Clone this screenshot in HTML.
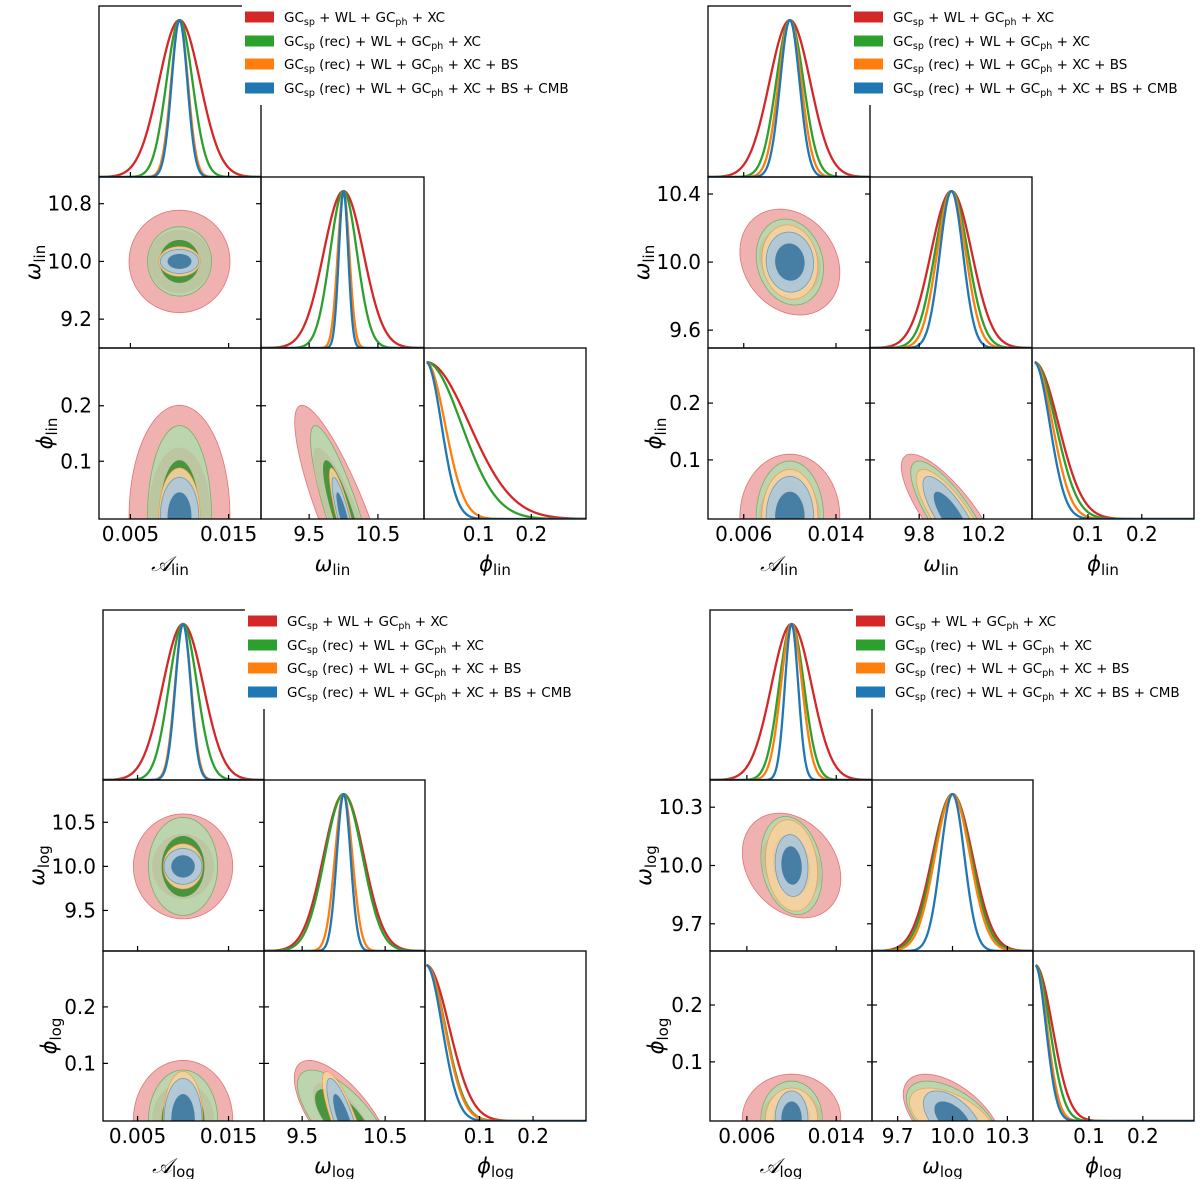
<!DOCTYPE html>
<html><head><meta charset="utf-8">
<style>
html,body{margin:0;padding:0;background:#fff;}
svg{display:block;}
text{font-family:"DejaVu Sans","Liberation Sans",sans-serif;fill:#000;}
</style></head>
<body>
<svg id="chart" width="1200" height="1179" viewBox="0 0 1200 1179" xmlns="http://www.w3.org/2000/svg"></svg>
<script>
// ---------- data ----------
const seriesLabels = [
  ["GC","sp"," + WL + GC","ph"," + XC"],
  ["GC","sp"," (rec) + WL + GC","ph"," + XC"],
  ["GC","sp"," (rec) + WL + GC","ph"," + XC + BS"],
  ["GC","sp"," (rec) + WL + GC","ph"," + XC + BS + CMB"]
];
const meanA = [0.01, 0.01, 0.01, 0.01];
const meanW = [10.0, 10.0, 10.0, 10.0];
const meanP = [0, 0, 0, 0];

// top-left (lin)
const tlSigA = [0.0021, 0.00133, 0.00086, 0.0008];
const tlSigW = [0.29, 0.196, 0.085, 0.068];
const tlSigP = [0.082, 0.067, 0.036, 0.029];
const tlRhoAW = [0, 0, 0, 0];
const tlRhoWP = [-0.85, -0.85, -0.85, -0.85];
const tlTicksA = [0.005, 0.015], tlTickLabA = ["0.005", "0.015"];
const tlTicksWx = [9.5, 10.5], tlTickLabWx = ["9.5", "10.5"];
const tlTicksWy = [9.2, 10.0, 10.8], tlTickLabWy = ["9.2", "10.0", "10.8"];
const tlTicksP = [0.1, 0.2], tlTickLabP = ["0.1", "0.2"];

// top-right (lin + CMB)
const trSigA = [0.00177, 0.00119, 0.00099, 0.00084];
const trSigW = [0.127, 0.103, 0.089, 0.072];
const trSigP = [0.045, 0.04, 0.034, 0.029];
const trRhoAW = [-0.2, -0.15, -0.1, -0.05];
const trRhoWP = [-0.8, -0.8, -0.8, -0.8];
const trTicksA = [0.006, 0.014], trTickLabA = ["0.006", "0.014"];
const trTicksWx = [9.8, 10.2], trTickLabWx = ["9.8", "10.2"];
const trTicksWy = [9.6, 10.0, 10.4], trTickLabWy = ["9.6", "10.0", "10.4"];
const trTicksP = [0.1, 0.2], trTickLabP = ["0.1", "0.2"];

// bottom-left (log)
const blSigA = [0.00223, 0.00155, 0.00089, 0.00085];
const blSigW = [0.243, 0.227, 0.105, 0.083];
const blSigP = [0.043, 0.036, 0.035, 0.03];
const blRhoAW = [0, 0, 0, 0];
const blRhoWP = [-0.7, -0.7, -0.8, -0.8];
const blTicksA = [0.005, 0.015], blTickLabA = ["0.005", "0.015"];
const blTicksWx = [9.5, 10.5], blTickLabWx = ["9.5", "10.5"];
const blTicksWy = [9.5, 10.0, 10.5], blTickLabWy = ["9.5", "10.0", "10.5"];
const blTicksP = [0.1, 0.2], blTickLabP = ["0.1", "0.2"];

// bottom-right (log + CMB)
const brSigA = [0.0018, 0.00112, 0.00095, 0.0006];
const brSigW = [0.11, 0.103, 0.096, 0.065];
const brSigP = [0.032, 0.027, 0.022, 0.02];
const brRhoAW = [-0.25, -0.2, -0.15, -0.1];
const brRhoWP = [-0.55, -0.55, -0.55, -0.55];
const brTicksA = [0.006, 0.014], brTickLabA = ["0.006", "0.014"];
const brTicksWx = [9.7, 10.0, 10.3], brTickLabWx = ["9.7", "10.0", "10.3"];
const brTicksWy = [9.7, 10.0, 10.3], brTickLabWy = ["9.7", "10.0", "10.3"];
const brTicksP = [0.1, 0.2], brTickLabP = ["0.1", "0.2"];

// ---------- styles ----------
const lineColors = ["#d62728", "#2ca02c", "#ff7f0e", "#1f77b4"];
const outerFill = ["#efaaaa", "#b7d8ae", "#f6d0a0", "#adc8da"];
const innerFill = ["#bcc49f", "#3f8f35", "#efc184", "#3d77a0"];
const K_OUT = 2.45, K_IN = 1.52;

const NS = "http://www.w3.org/2000/svg";
const svg = document.getElementById("chart");
function el(tag, parent, attrs) {
  const e = document.createElementNS(NS, tag);
  for (const k in attrs) e.setAttribute(k, attrs[k]);
  parent.appendChild(e);
  return e;
}
function scale(lo, hi, p0, p1) { return v => p0 + (v - lo) / (hi - lo) * (p1 - p0); }

function ellipsePts(mx, my, sx, sy, rho, k, fx, fy) {
  const pts = [];
  const c = Math.sqrt(Math.max(0, 1 - rho * rho));
  for (let i = 0; i <= 120; i++) {
    const t = i / 120 * Math.PI * 2;
    const x = mx + k * sx * Math.cos(t);
    const y = my + k * sy * (rho * Math.cos(t) + c * Math.sin(t));
    pts.push(fx(x).toFixed(2) + "," + fy(y).toFixed(2));
  }
  return pts.join(" ");
}

let clipId = 0;
function buildFigure(id, cfg) {
  const g = el("g", svg, {});
  
  
  const C = cfg.cols, R = cfg.rows;
  const xs = [scale(cfg.rA[0], cfg.rA[1], C[0], C[1]), scale(cfg.rW[0], cfg.rW[1], C[1], C[2]), scale(cfg.rP[0], cfg.rP[1], C[2], C[3])];
  const ysW = scale(cfg.rW[0], cfg.rW[1], R[2], R[1]);
  const ysP = scale(cfg.rP[0], cfg.rP[1], R[3], R[2]);
  const sig = [cfg.sA, cfg.sW, cfg.sP];
  const means = [meanA, meanW, meanP];
  const lo = [cfg.rA[0], cfg.rW[0], cfg.rP[0]], hi = [cfg.rA[1], cfg.rW[1], cfg.rP[1]];

  function clipRect(x0, y0, x1, y1) {
    const cid = "clip" + (clipId++);
    const cp = el("clipPath", g, { id: cid });
    el("rect", cp, { x: x0, y: y0, width: x1 - x0, height: y1 - y0 });
    return "url(#" + cid + ")";
  }

  for (let d = 0; d < 3; d++) {
    const pg = el("g", g, { "clip-path": clipRect(C[d], R[d], C[d + 1], R[d + 1]) });
    
    
    const yb = R[d + 1], h = R[d + 1] - R[d];
    for (let s = 0; s < 4; s++) {
      const pts = [];
      for (let i = 0; i <= 240; i++) {
        const v = lo[d] + (hi[d] - lo[d]) * i / 240;
        if (d === 2 && v < 0) continue;
        const z = (v - means[d][s]) / sig[d][s];
        const val = Math.exp(-0.5 * z * z);
        pts.push(xs[d](v).toFixed(2) + "," + (yb - val / 1.09 * h).toFixed(2));
      }
      const pl = el("polyline", pg, { points: pts.join(" "), fill: "none", stroke: lineColors[s], "stroke-width": 2.3, "stroke-linejoin": "round" });
      
      
    }
  }

  const pairs = [[1, 0, 0, 1], [2, 0, 0, 2], [2, 1, 1, 2]];
  const order = [[0, "o"], [1, "o"], [0, "i"], [1, "i"], [2, "o"], [2, "i"], [3, "o"], [3, "i"]];
  pairs.forEach(([r, c, px, py]) => {
    const pg = el("g", g, { "clip-path": clipRect(C[c], R[r], C[c + 1], R[r + 1]) });
    
    
    const fy = py === 1 ? ysW : ysP;
    order.forEach(([s, lev]) => {
      let rho = 0;
      if (px === 0 && py === 1) rho = cfg.rhoAW[s];
      if (px === 1 && py === 2) rho = cfg.rhoWP[s];
      const k = lev === "o" ? K_OUT : K_IN;
      const poly = el("polygon", pg, {
        points: ellipsePts(means[px][s], means[py][s], sig[px][s], sig[py][s], rho, k, xs[px], fy),
        fill: lev === "o" ? outerFill[s] : innerFill[s],
        "fill-opacity": 0.92,
        stroke: lev === "o" ? lineColors[s] : "none",
        "stroke-width": 0.8, "stroke-opacity": 0.55
      });
      
      
    });
  });

  const fr = el("g", g, {});
  
  
  for (let r = 0; r < 3; r++) for (let c = 0; c <= r; c++) {
    el("rect", fr, { x: C[c], y: R[r], width: C[c + 1] - C[c], height: R[r + 1] - R[r], fill: "none", stroke: "#000", "stroke-width": 1.3 });
    const xt = [cfg.tA, cfg.tWx, cfg.tP][c];
    xt.forEach(v => { const x = xs[c](v); el("line", fr, { x1: x, x2: x, y1: R[r + 1], y2: R[r + 1] - 5, stroke: "#000", "stroke-width": 1.2 }); });
    if (r > c) {
      const yt = r === 1 ? cfg.tWy : cfg.tP, fy = r === 1 ? ysW : ysP;
      yt.forEach(v => { const y = fy(v); el("line", fr, { x1: C[c], x2: C[c] + 5, y1: y, y2: y, stroke: "#000", "stroke-width": 1.2 });
        el("line", fr, { x1: C[c + 1], x2: C[c + 1] - 5, y1: y, y2: y, stroke: "#000", "stroke-width": 1.2 }); });
    }
  }

  const xLabs = [[cfg.tA, cfg.lA], [cfg.tWx, cfg.lWx], [cfg.tP, cfg.lP]];
  xLabs.forEach(([t, l], c) => t.forEach((v, i) => {
    const tx = el("text", g, { x: xs[c](v), y: R[3] + 22, "font-size": 20, "text-anchor": "middle" });
    tx.textContent = l[i];
    
    
  }));
  [[cfg.tWy, cfg.lWy, ysW], [cfg.tP, cfg.lP, ysP]].forEach(([t, l, fy]) => t.forEach((v, i) => {
    const tx = el("text", g, { x: C[0] - 7, y: fy(v) + 7, "font-size": 20, "text-anchor": "end" });
    tx.textContent = l[i];
    
    
  }));

  const sub = cfg.sub;
  const xt = [["\u{1D49C}"], ["\u03C9"], ["\u03D5"]];
  const names = ["a", "omega", "phi"];
  xt.forEach(([sym], c) => {
    const tx = el("text", g, { x: (C[c] + C[c + 1]) / 2 - 10, y: R[3] + 52, "font-size": 21, "text-anchor": "middle" });
    const t1 = el("tspan", tx, { "font-style": "italic" }); t1.textContent = sym;
    const t2 = el("tspan", tx, { dy: 4, "font-size": 15 }); t2.textContent = sub;
    
    
  });
  [[1, "\u03C9", 44], [2, "\u03D5", 32]].forEach(([r, sym, lw]) => {
    const cx = C[0] - lw - 22, cy = (R[r] + R[r + 1]) / 2;
    const tx = el("text", g, { x: cx, y: cy, "font-size": 21, "text-anchor": "middle", transform: "rotate(-90 " + cx + " " + cy + ")", dy: 7 });
    const t1 = el("tspan", tx, { "font-style": "italic" }); t1.textContent = sym;
    const t2 = el("tspan", tx, { dy: 5, "font-size": 15 }); t2.textContent = sub;
    
    
  });

  const lg = el("g", g, {});
  
  
  el("rect", lg, { x: C[1] - 19, y: R[0] - 4, width: C[3] - C[1] + 25, height: 103, fill: "#fff" });
  const offs = [11, 35, 58, 82];
  seriesLabels.forEach((parts, s) => {
    const y = R[0] + offs[s];
    const en = el("g", lg, {});
    
    
    el("rect", en, { x: C[1] - 16, y: y - 5.5, width: 29, height: 11, fill: lineColors[s] });
    const tx = el("text", en, { x: C[1] + 23, y: y + 5, "font-size": 13.5 });
    const a = el("tspan", tx, {}); a.textContent = parts[0];
    const b = el("tspan", tx, { dy: 3, "font-size": 9.5 }); b.textContent = parts[1];
    const c2 = el("tspan", tx, { dy: -3 }); c2.textContent = parts[2];
    const d = el("tspan", tx, { dy: 3, "font-size": 9.5 }); d.textContent = parts[3];
    const e = el("tspan", tx, { dy: -3 }); e.textContent = parts[4];
  });
}

buildFigure("lin", {
  cols: [99, 261, 424, 586], rows: [6, 177, 348, 519], sub: "lin",
  rA: [0.0018, 0.0183], rW: [8.8, 11.17], rP: [-0.004, 0.304],
  sA: tlSigA, sW: tlSigW, sP: tlSigP, rhoAW: tlRhoAW, rhoWP: tlRhoWP,
  tA: tlTicksA, lA: tlTickLabA, tWx: tlTicksWx, lWx: tlTickLabWx, tWy: tlTicksWy, lWy: tlTickLabWy, tP: tlTicksP, lP: tlTickLabP
});
buildFigure("lin-cmb", {
  cols: [708, 870, 1032, 1194], rows: [6, 177, 348, 519], sub: "lin",
  rA: [0.0029, 0.01695], rW: [9.495, 10.5], rP: [-0.004, 0.297],
  sA: trSigA, sW: trSigW, sP: trSigP, rhoAW: trRhoAW, rhoWP: trRhoWP,
  tA: trTicksA, lA: trTickLabA, tWx: trTicksWx, lWx: trTickLabWx, tWy: trTicksWy, lWy: trTickLabWy, tP: trTicksP, lP: trTickLabP
});
buildFigure("log", {
  cols: [103, 264, 425, 586], rows: [610, 780, 951, 1121], sub: "log",
  rA: [0.0012, 0.0189], rW: [9.04, 10.98], rP: [-0.002, 0.299],
  sA: blSigA, sW: blSigW, sP: blSigP, rhoAW: blRhoAW, rhoWP: blRhoWP,
  tA: blTicksA, lA: blTickLabA, tWx: blTicksWx, lWx: blTickLabWx, tWy: blTicksWy, lWy: blTickLabWy, tP: blTicksP, lP: blTickLabP
});
buildFigure("log-cmb", {
  cols: [710, 872, 1033, 1194], rows: [610, 780, 951, 1121], sub: "log",
  rA: [0.0027, 0.0172], rW: [9.56, 10.44], rP: [-0.004, 0.295],
  sA: brSigA, sW: brSigW, sP: brSigP, rhoAW: brRhoAW, rhoWP: brRhoWP,
  tA: brTicksA, lA: brTickLabA, tWx: brTicksWx, lWx: brTickLabWx, tWy: brTicksWy, lWy: brTickLabWy, tP: brTicksP, lP: brTickLabP
});
</script>
</body></html>
